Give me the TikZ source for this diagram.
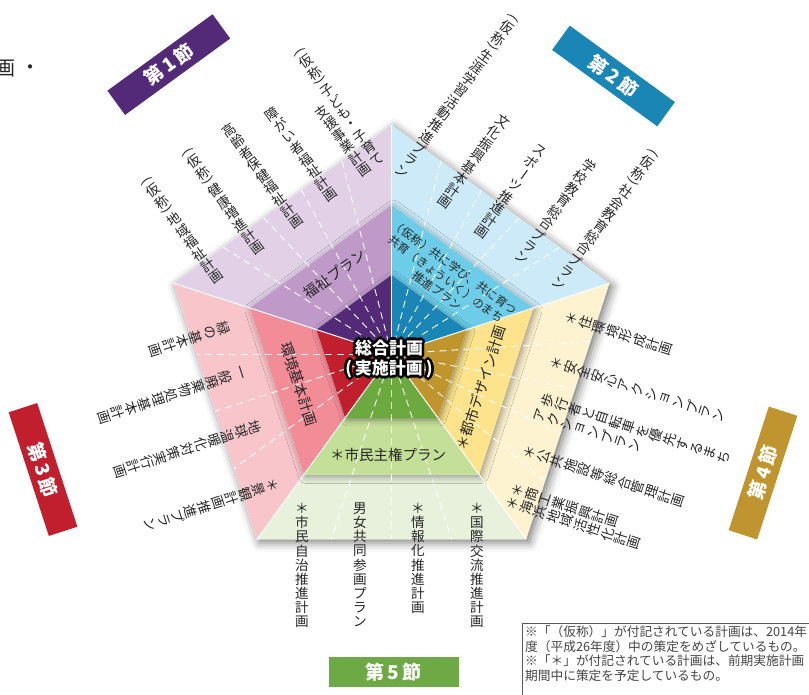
\documentclass[tikz,border=0pt]{standalone}
\usepackage{fontspec}
\setmainfont{Noto Sans CJK JP}
\usepackage{graphicx}
\usetikzlibrary{calc,shadows.blur}
\definecolor{pu1}{HTML}{522A78}
\definecolor{pu2}{HTML}{BF9AC9}
\definecolor{pu3}{HTML}{E1D0E6}
\definecolor{bl1}{HTML}{1A86B6}
\definecolor{bl2}{HTML}{6DCDE8}
\definecolor{bl3}{HTML}{CCEAF8}
\definecolor{go1}{HTML}{C1952E}
\definecolor{go2}{HTML}{FCE38C}
\definecolor{go3}{HTML}{FEF3D0}
\definecolor{gr1}{HTML}{6CAA3F}
\definecolor{gr2}{HTML}{C4DF98}
\definecolor{gr3}{HTML}{E7F1DB}
\definecolor{re1}{HTML}{C11F2D}
\definecolor{re2}{HTML}{F28D98}
\definecolor{re3}{HTML}{F8C6CA}
\definecolor{lab4}{HTML}{C0952F}
\definecolor{lab5}{HTML}{6DAA45}
\definecolor{txt}{HTML}{262626}
\definecolor{notetxt}{HTML}{444444}

\makeatletter
\newcommand\po{}\newcommand\pc{}\newcommand\vl{}
\def\vc@po{\po}\def\vc@pc{\pc}\def\vc@vl{\vl}
\newdimen\vcp \vcp=14.2pt
\def\vc@cell#1#2{\hbox to 1.05em{\hss\vbox to #1\vcp{\vss\hbox{#2}\vss}\hss}}
\def\vc@item{%
  \ifx\vc@c\vc@po \vc@cell{.5}{\rotatebox[origin=c]{-90}{(}}%
  \else\ifx\vc@c\vc@pc \vc@cell{.5}{\rotatebox[origin=c]{-90}{)}}%
  \else\ifx\vc@c\vc@vl \vc@cell{1}{\rotatebox[origin=c]{-90}{ー}}%
  \else \vc@cell{1}{\vc@c}\fi\fi\fi}
\newcommand\vcol[1]{\vbox{\offinterlineskip\@tfor\vc@c:=#1\do{\vc@item}}}
\makeatother

\newcommand\pentring[7]{%
  \path[fill=white, blur shadow={#7}] ($(C)+(90:#1)$) -- ($(C)+(162:#1)$) -- ($(C)+(234:#1)$) -- ($(C)+(306:#1)$) -- ($(C)+(18:#1)$) -- cycle;
  \fill[#2] (C) -- ($(C)+(90:#1)$) -- ($(C)+(162:#1)$) -- cycle;
  \fill[#3] (C) -- ($(C)+(162:#1)$) -- ($(C)+(234:#1)$) -- cycle;
  \fill[#4] (C) -- ($(C)+(234:#1)$) -- ($(C)+(306:#1)$) -- cycle;
  \fill[#5] (C) -- ($(C)+(306:#1)$) -- ($(C)+(378:#1)$) -- cycle;
  \fill[#6] (C) -- ($(C)+(18:#1)$) -- ($(C)+(90:#1)$) -- cycle;
}

\tikzset{
  vtext/.style={inner sep=0pt, anchor=north, text=txt, font=\fontsize{13.6}{14}\selectfont},
  mtext/.style={inner sep=0pt, text=txt, font=\fontsize{14.5}{15}\selectfont},
  seclabel/.style={inner sep=0pt, minimum width=130pt, minimum height=30pt, text=white, font=\bfseries\fontsize{19}{20}\selectfont},
  dl/.style={white, line width=0.9pt, dash pattern=on 7pt off 5pt},
  spoke/.style={white, line width=1pt},
  titlefont/.style={inner sep=0pt, align=center, font=\bfseries\fontsize{17}{20}\selectfont},
  notefont/.style={inner sep=0pt, anchor=base west, text=notetxt, font=\fontsize{12.7}{14.7}\selectfont},
}

\begin{document}
\begin{tikzpicture}[x=1pt,y=1pt]
\useasboundingbox (0,0) rectangle (809,-694);
\coordinate (C) at (391.5,-354);

% rings
\pentring{229}{pu3}{re3}{gr3}{go3}{bl3}{shadow xshift=3pt,shadow yshift=-3pt,shadow blur radius=9pt,shadow opacity=55}
\pentring{149}{pu2}{re2}{gr2}{go2}{bl2}{shadow xshift=2pt,shadow yshift=-2pt,shadow blur radius=7pt,shadow opacity=40}
\pentring{79}{pu1}{re1}{gr1}{go1}{bl1}{shadow xshift=2pt,shadow yshift=-2pt,shadow blur radius=6pt,shadow opacity=40}

% spokes between sections
\foreach \a in {90,162,234,306,18}
  \draw[spoke] (C) -- ($(C)+(\a:229)$);

% dashed dividers
\foreach \a/\m in {104.4/126,118.8/126,133.2/126,147.6/126,
                   75.6/54,61.2/54,46.8/54,32.4/54,
                   180/198,198/198,216/198,
                   3.6/-18,-10.8/-18,-25.2/-18,-39.6/-18,
                   252/270,270/270,288/270}
  \draw[dl] (C) -- ($(C)+(\a:{185.3/cos(\a-\m)})$);

% section labels
\node[seclabel, fill=pu1, rotate=36]  (s1) at (168.8,-64.6) {第\,1\,節};
\node[seclabel, fill=bl1, rotate=-36] (s2) at (613.5,-76) {第\,2\,節};
\node[seclabel, fill=re1, rotate=-72] (s3) at (43,-469.5) {第\,3\,節};
\node[seclabel, fill=lab4, rotate=72] (s4) at (763,-473) {第\,4\,節};
\node[seclabel, fill=lab5]            (s5) at (393.5,-672) {第\,5\,節};

% section 1 plans
\node[vtext, rotate=36] (t11) at (145,-179) {\vcol{\po 仮称\pc 地域福祉計画}};
\node[vtext, rotate=36] (t12) at (186,-150) {\vcol{\po 仮称\pc 健康増進計画}};
\node[vtext, rotate=36] (t13) at (225,-124) {\vcol{高齢者保健福祉計画}};
\node[vtext, rotate=36] (t14) at (268,-108) {\vcol{障がい者福祉計画}};
\node[vtext, rotate=36] (t15a) at (298,-50) {\vcol{\po 仮称\pc 子ども・子育て}};
\node[vtext, rotate=36] (t15b) at (318,-106) {\vcol{支援事業計画}};

% section 2 plans
\node[vtext, rotate=-36] (t21) at (515,-16) {\vcol{\po 仮称\pc 生涯学習活動推進プラン}};
\node[vtext, rotate=-36] (t22) at (507,-115) {\vcol{文化振興基本計画}};
\node[vtext, rotate=-36] (t23) at (544,-145) {\vcol{スポ\vl ツ推進計画}};
\node[vtext, rotate=-36] (t24) at (593,-160) {\vcol{学校教育総合プラン}};
\node[vtext, rotate=-36] (t25) at (655,-151) {\vcol{\po 仮称\pc 社会教育総合プラン}};

% section 3 plans
\node[vtext, rotate=-72] (t31) at (230,-326) {\vcol{緑の基本計画}};
\node[vtext, rotate=-72] (t32) at (246,-371) {\vcol{一般廃棄物処理基本計画}};
\node[vtext, rotate=-72] (t33) at (262,-425) {\vcol{地球温暖化対策実行計画}};
\node[vtext, rotate=-72] (t34) at (279,-483) {\vcol{＊景観計画推進プラン}};

% section 4 plans
\node[vtext, rotate=72] (t41) at (565,-316) {\vcol{＊住環境形成計画}};
\node[vtext, rotate=72] (t42) at (550,-361) {\vcol{＊安全安心アクションプラン}};
\node[vtext, rotate=72] (t43a) at (541,-398) {\vcol{歩行者と自転車を優先するまち}};
\node[vtext, rotate=72] (t43b) at (533,-413) {\vcol{アクションプラン}};
\node[vtext, rotate=72] (t44) at (523,-450) {\vcol{＊公共施設等総合管理計画}};
\node[vtext, rotate=72] (t45a) at (511,-488) {\vcol{＊商工業振興計画}};
\node[vtext, rotate=72] (t45b) at (506,-501) {\vcol{＊海浜地域活性化計画}};

% section 5 plans
\node[vtext] (t51) at (302,-501) {\vcol{＊市民自治推進計画}};
\node[vtext] (t52) at (360,-501) {\vcol{男女共同参画プラン}};
\node[vtext] (t53) at (418,-501) {\vcol{＊情報化推進計画}};
\node[vtext] (t54) at (477,-501) {\vcol{＊国際交流推進計画}};

% middle ring plans
\node[mtext, rotate=36]  (m1) at (335,-274) {福祉プラン};
\node[mtext, rotate=-36, align=center, font=\fontsize{11.6}{14.5}\selectfont] (m2) at (446,-279)
  {（仮称）共に学び、共に育つ\\共育（きょういく）のまち\\推進プラン};
\node[mtext, rotate=-72] (m3) at (299,-384) {環境基本計画};
\node[mtext, rotate=72]  (m4) at (481,-388) {＊都市デザイン計画};
\node[mtext]             (m5) at (388,-455) {＊市民主権プラン};

% centre title: white text with black outline
\coordinate (T) at (389,-359);
\foreach \k in {0,30,...,330} {
  \node[titlefont, text=black] (to\k) at ($(T)+(\k:2.7)$) {総合計画\\(\,実施計画\,)};
}
\foreach \k in {0,45,...,315} {
  \node[titlefont, text=black] (ti\k) at ($(T)+(\k:1.35)$) {総合計画\\(\,実施計画\,)};
}
\node[titlefont, text=white] (title) at (T) {総合計画\\(\,実施計画\,)};

% cut-off text at top left
\node[inner sep=0pt, text=txt, font=\fontsize{20}{20}\selectfont] (frag1) at (5,-69) {画};
\node[inner sep=0pt, text=txt, font=\fontsize{20}{20}\selectfont] (frag2) at (30,-70) {・};

% note box
\draw[draw=gray!70!black, line width=0.8pt] (522,-623) rectangle (830,-710);
\node[notefont] (n1) at (525,-636.5) {※「（仮称）」が付記されている計画は、2014年};
\node[notefont] (n2) at (525,-651.2) {度（平成26年度）中の策定をめざしているもの。};
\node[notefont] (n3) at (525,-665.9) {※「＊」が付記されている計画は、前期実施計画};
\node[notefont] (n4) at (525,-680.6) {期間中に策定を予定しているもの。};
\end{tikzpicture}
\end{document}
